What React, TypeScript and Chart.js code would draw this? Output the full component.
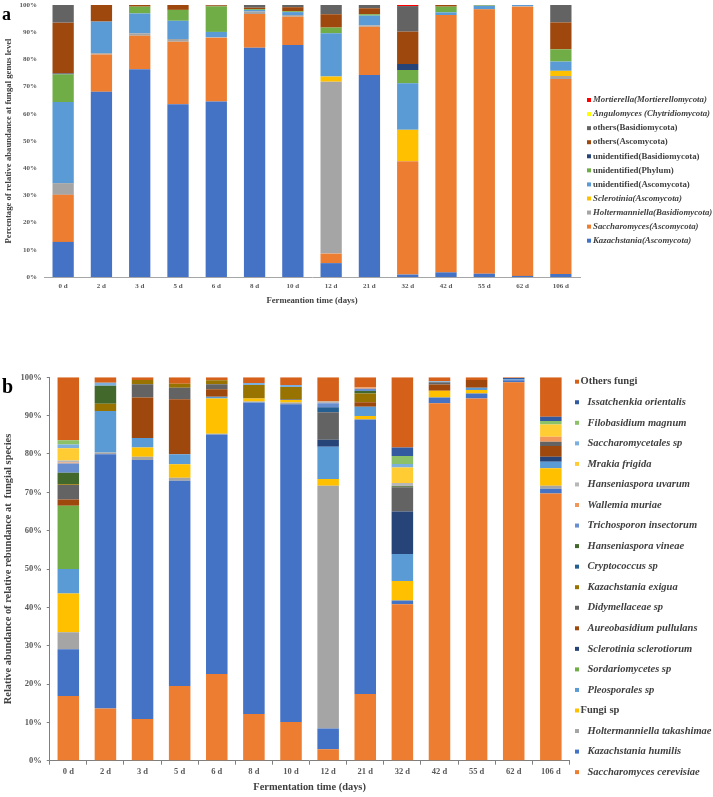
import React, { useEffect, useRef } from "react";
import { Chart, registerables } from "chart.js";

Chart.register(...registerables);

const FONT = '"Liberation Serif", "Times New Roman", serif';

// ---------- Panel a data (genus level) ----------
const daysA = ["0 d", "2 d", "3 d", "5 d", "6 d", "8 d", "10 d", "12 d", "21 d", "32 d", "42 d", "55 d", "62 d", "106 d"];
const kazachstania = [12.9, 68.1, 76.4, 63.5, 64.5, 84.3, 85.3, 5.1, 74.3, 0.9, 1.7, 1.2, 0.4, 1.1];
const saccharomyces = [17.3, 13.7, 12.3, 23.0, 23.5, 12.4, 10.4, 3.5, 17.7, 41.7, 94.6, 97.2, 99.0, 71.7];
const holtermanniella = [4.3, 0.5, 0.9, 1.0, 0.1, 0.9, 0.6, 63.2, 0.5, 0, 0, 0, 0.2, 1.1];
const sclerotinia = [0, 0, 0, 0, 0, 0, 0, 1.9, 0, 11.5, 0, 0, 0, 1.9];
const unidAscomycota = [29.8, 11.6, 7.3, 6.7, 2.0, 0.6, 1.1, 15.9, 3.6, 17.1, 1.0, 1.3, 0.4, 3.4];
const unidPhylum = [10.2, 0, 2.5, 4.0, 9.4, 0.3, 0.3, 2.1, 0.5, 4.9, 2.1, 0.2, 0, 4.5];
const unidBasidiomycota = [0.3, 0, 0, 0, 0, 0, 0, 0, 0, 2.2, 0, 0, 0, 0];
const othersAscomycota = [18.7, 6.1, 0.6, 1.8, 0.4, 0.5, 1.5, 4.9, 2.2, 11.9, 0.6, 0.1, 0, 9.9];
const othersBasidiomycota = [6.5, 0, 0, 0, 0.2, 1.0, 0.9, 3.4, 1.2, 9.4, 0, 0, 0, 6.4];
const angulomyces = [0, 0, 0, 0, 0, 0, 0, 0, 0, 0, 0, 0, 0, 0];
const mortierella = [0, 0, 0, 0, 0, 0, 0, 0, 0, 0.4, 0, 0, 0, 0];

const labelsA = [
  "Kazachstania(Ascomycota)",
  "Saccharomyces(Ascomycota)",
  "Holtermanniella(Basidiomycota)",
  "Sclerotinia(Ascomycota)",
  "unidentified(Ascomycota)",
  "unidentified(Phylum)",
  "unidentified(Basidiomycota)",
  "others(Ascomycota)",
  "others(Basidiomycota)",
  "Angulomyces (Chytridiomycota)",
  "Mortierella(Mortierellomycota)",
];
const italicA = [true, true, true, true, false, false, false, false, false, true, true];
const colorsA = ["#4472C4", "#ED7D31", "#A5A5A5", "#FFC000", "#5B9BD5", "#70AD47", "#264478", "#9E480E", "#636363", "#FFFF00", "#FF0000"];
const seriesA = [kazachstania, saccharomyces, holtermanniella, sclerotinia, unidAscomycota, unidPhylum, unidBasidiomycota, othersAscomycota, othersBasidiomycota, angulomyces, mortierella];

// ---------- Panel b data (species level) ----------
const daysB = ["0 d", "2 d", "3 d", "5 d", "6 d", "8 d", "10 d", "12 d", "21 d", "32 d", "42 d", "55 d", "62 d", "106 d"];
const sCerevisiae = [16.9, 13.6, 10.9, 19.5, 22.6, 12.2, 10.1, 3.0, 17.4, 40.8, 93.2, 94.5, 98.7, 69.7];
const kHumilis = [12.2, 66.3, 67.5, 53.5, 62.5, 81.2, 82.9, 5.4, 71.6, 1.0, 1.5, 1.3, 0.5, 1.2];
const hTakashimae = [4.4, 0.5, 0.9, 0.8, 0.2, 0.3, 0.4, 63.3, 0, 0, 0, 0, 0, 0.8];
const fungiSp = [10.1, 0, 2.4, 3.5, 9.2, 0.8, 0.7, 1.8, 0.9, 5.1, 1.8, 0.9, 0, 4.6];
const pleosporales = [6.4, 10.8, 2.5, 2.6, 0.4, 0, 0, 8.4, 2.4, 7.0, 0, 0.6, 0.3, 1.7];
const sordariomycetes = [16.5, 0, 0, 0, 0, 0, 0, 0, 0, 0, 0, 0, 0, 0];
const sSclerotiorum = [0, 0, 0, 0, 0, 0, 0, 1.8, 0, 11.1, 0, 0, 0, 1.3];
const aPullulans = [1.6, 0, 10.5, 14.4, 2.0, 0, 0, 0, 1.2, 0, 1.6, 2.0, 0, 2.8];
const didymellaceae = [3.8, 0, 3.5, 3.0, 1.3, 0, 0.2, 7.2, 0, 6.3, 0.6, 0, 0, 1.1];
const kExigua = [0.2, 1.9, 1.1, 1.0, 1.0, 3.5, 3.2, 0, 2.3, 0, 0, 0, 0, 0];
const cryptococcus = [0, 0, 0, 0, 0, 0, 0, 1.3, 0, 0, 0, 0, 0, 0];
const hVineae = [3.0, 4.7, 0, 0, 0, 0, 0, 0, 0.6, 0.3, 0, 0, 0, 0];
const tInsectorum = [2.4, 0, 0, 0, 0, 0, 0, 1.0, 0.6, 0, 0, 0, 0, 0];
const wMuriae = [0.3, 0, 0, 0, 0, 0, 0, 0, 0.4, 0, 0, 0, 0, 1.3];
const hUvarum = [0.5, 0, 0, 0, 0, 0, 0, 0.5, 0, 0.8, 0, 0, 0, 0];
const mFrigida = [3.2, 0, 0, 0, 0, 0, 0, 0, 0, 4.1, 0, 0, 0, 3.2];
const saccharomycetales = [1.0, 0.8, 0, 0, 0, 0.5, 0.5, 0, 0, 0.9, 0.3, 0, 0, 0];
const fMagnum = [1.1, 0, 0, 0, 0, 0, 0, 0, 0, 2.1, 0, 0, 0, 0.9];
const iOrientalis = [0, 0, 0, 0, 0, 0, 0, 0, 0, 2.2, 0, 0, 0.3, 1.1];
const othersFungi = [16.4, 1.4, 0.7, 1.7, 0.8, 1.5, 2.0, 6.3, 2.6, 18.3, 1.0, 0.7, 0.2, 10.3];

const labelsB = [
  "Saccharomyces cerevisiae",
  "Kazachstania humilis",
  "Holtermanniella takashimae",
  "Fungi sp",
  "Pleosporales sp",
  "Sordariomycetes sp",
  "Sclerotinia sclerotiorum",
  "Aureobasidium pullulans",
  "Didymellaceae sp",
  "Kazachstania exigua",
  "Cryptococcus sp",
  "Hanseniaspora vineae",
  "Trichosporon insectorum",
  "Wallemia muriae",
  "Hanseniaspora uvarum",
  "Mrakia frigida",
  "Saccharomycetales sp",
  "Filobasidium magnum",
  "Issatchenkia orientalis",
  "Others fungi",
];
const italicB = [true, true, true, false, true, true, true, true, true, true, true, true, true, true, true, true, true, true, true, false];
const colorsB = [
  "#ED7D31", "#4472C4", "#A5A5A5", "#FFC000", "#5B9BD5", "#70AD47", "#264478", "#9E480E", "#636363", "#997300",
  "#255E91", "#43682B", "#698ED0", "#F1975A", "#B7B7B7", "#FFCD33", "#7CAFDD", "#8CC168", "#335AA1", "#D4601A",
];
const seriesB = [
  sCerevisiae, kHumilis, hTakashimae, fungiSp, pleosporales, sordariomycetes, sSclerotiorum, aPullulans, didymellaceae, kExigua,
  cryptococcus, hVineae, tInsectorum, wMuriae, hUvarum, mFrigida, saccharomycetales, fMagnum, iOrientalis, othersFungi,
];

type LegendCfg = {
  italic: boolean[];
  boxX: number;
  textX: number;
  italicShift: number;
  y0: number;
  dy: number;
  box: number;
  size: number;
  letter: string;
  letterX: number;
  letterY: number;
  letterSize: number;
};

function makeLegendPlugin(cfg: LegendCfg) {
  return {
    id: "customLegend",
    afterDraw(chart: any) {
      const ctx = chart.ctx;
      ctx.save();
      const ds = chart.data.datasets;
      const n = ds.length;
      for (let k = 0; k < n; k++) {
        const i = n - 1 - k;
        const y = cfg.y0 + k * cfg.dy;
        ctx.fillStyle = ds[i].backgroundColor;
        ctx.fillRect(cfg.boxX, y - cfg.box / 2, cfg.box, cfg.box);
        ctx.font = `${cfg.italic[i] ? "italic " : ""}bold ${cfg.size}px ${FONT}`;
        ctx.fillStyle = "#404040";
        ctx.textBaseline = "middle";
        ctx.textAlign = "left";
        ctx.fillText(ds[i].label, cfg.textX + (cfg.italic[i] ? cfg.italicShift : 0), y);
      }
      ctx.font = `bold ${cfg.letterSize}px ${FONT}`;
      ctx.fillStyle = "#000000";
      ctx.textBaseline = "alphabetic";
      ctx.fillText(cfg.letter, cfg.letterX, cfg.letterY);
      ctx.restore();
    },
  };
}

function StackChart(props: {
  width: number;
  height: number;
  top: number;
  days: string[];
  labels: string[];
  colors: string[];
  series: number[][];
  legend: LegendCfg;
  padding: { left: number; right: number; top: number; bottom: number };
  yWidth: number;
  xHeight: number;
  tickSize: number;
  titleSize: number;
  xTitle: string;
  yTitle: string;
  xTitlePad: number;
  yTitlePad: number;
  xTickPad: number;
  yTickPad: number;
  axisTicks: boolean;
  barFrac: number;
}) {
  const ref = useRef<HTMLCanvasElement>(null);
  useEffect(() => {
    if (!ref.current) return;
    const p = props;
    const chart = new Chart(ref.current, {
      type: "bar",
      data: {
        labels: p.days,
        datasets: p.series.map((s, i) => ({
          label: p.labels[i],
          data: s,
          backgroundColor: p.colors[i],
          borderWidth: 0,
          barPercentage: p.barFrac,
          categoryPercentage: 1,
        })),
      },
      options: {
        responsive: false,
        animation: false,
        layout: { padding: p.padding },
        plugins: { legend: { display: false }, tooltip: { enabled: false } },
        scales: {
          x: {
            stacked: true,
            grid: {
              display: p.axisTicks,
              drawOnChartArea: false,
              drawTicks: p.axisTicks,
              tickLength: 4,
              color: "#7F7F7F",
            },
            border: { display: true, color: p.axisTicks ? "#7F7F7F" : "#A6A6A6", width: 1 },
            ticks: {
              color: "#595959",
              padding: p.xTickPad,
              font: { family: FONT, size: p.tickSize, weight: "bold" },
              maxRotation: 0,
              autoSkip: false,
            },
            title: {
              display: true,
              text: p.xTitle,
              color: "#404040",
              font: { family: FONT, size: p.titleSize, weight: "bold" },
              padding: { top: 0, bottom: p.xTitlePad },
            },
            afterFit(scale: any) {
              scale.height = p.xHeight;
              scale.paddingLeft = 0;
              scale.paddingRight = 0;
            },
          },
          y: {
            stacked: true,
            min: 0,
            max: 100,
            grid: {
              display: p.axisTicks,
              drawOnChartArea: false,
              drawTicks: p.axisTicks,
              tickLength: 3,
              color: "#7F7F7F",
            },
            border: { display: p.axisTicks, color: "#7F7F7F", width: 1 },
            ticks: {
              stepSize: 10,
              color: "#595959",
              padding: p.yTickPad,
              font: { family: FONT, size: p.tickSize, weight: "bold" },
              callback: (v: any) => v + "%",
            },
            title: {
              display: true,
              text: p.yTitle,
              color: "#404040",
              font: { family: FONT, size: p.titleSize, weight: "bold" },
              padding: { top: p.yTitlePad, bottom: 0 },
            },
            afterFit(scale: any) {
              scale.width = p.yWidth;
              scale.paddingTop = 0;
              scale.paddingBottom = 0;
            },
          },
        },
      } as any,
      plugins: [makeLegendPlugin(p.legend)],
    });
    return () => chart.destroy();
  }, []);
  return (
    <canvas
      ref={ref}
      width={props.width}
      height={props.height}
      style={{ position: "absolute", left: 0, top: props.top, width: props.width, height: props.height }}
    />
  );
}

export default function App() {
  return (
    <div style={{ position: "absolute", left: 0, top: 0, width: 713, height: 797, background: "#ffffff", overflow: "hidden" }}>
      <StackChart
        width={713}
        height={320}
        top={0}
        days={daysA}
        labels={labelsA}
        colors={colorsA}
        series={seriesA}
        legend={{
          italic: italicA, boxX: 587, textX: 593, italicShift: 0, y0: 100, dy: 14.07, box: 4, size: 8.8,
          letter: "a", letterX: 2, letterY: 20, letterSize: 18,
        }}
        padding={{ left: 0, right: 133, top: 5, bottom: 0 }}
        yWidth={44}
        xHeight={43}
        tickSize={7}
        titleSize={8.7}
        xTitle="Fermeantion time (days)"
        yTitle="Percentage of relative abaundance at fungal genus level"
        xTitlePad={14}
        yTitlePad={4}
        xTickPad={5}
        yTickPad={7}
        axisTicks={false}
        barFrac={0.556}
      />
      <StackChart
        width={713}
        height={432}
        top={365}
        days={daysB}
        labels={labelsB}
        colors={colorsB}
        series={seriesB}
        legend={{
          italic: italicB, boxX: 575, textX: 580.5, italicShift: 7, y0: 16.7, dy: 20.55, box: 4, size: 10.5,
          letter: "b", letterX: 2, letterY: 28, letterSize: 20,
        }}
        padding={{ left: 0, right: 143.6, top: 12.3, bottom: 0 }}
        yWidth={49.75}
        xHeight={36.3}
        tickSize={8.5}
        titleSize={10.4}
        xTitle="Fermentation time (days)"
        yTitle="Relative abundance of relative rebundance at  fungial species"
        xTitlePad={3}
        yTitlePad={2}
        xTickPad={2}
        yTickPad={5}
        axisTicks={true}
        barFrac={0.58}
      />
    </div>
  );
}
